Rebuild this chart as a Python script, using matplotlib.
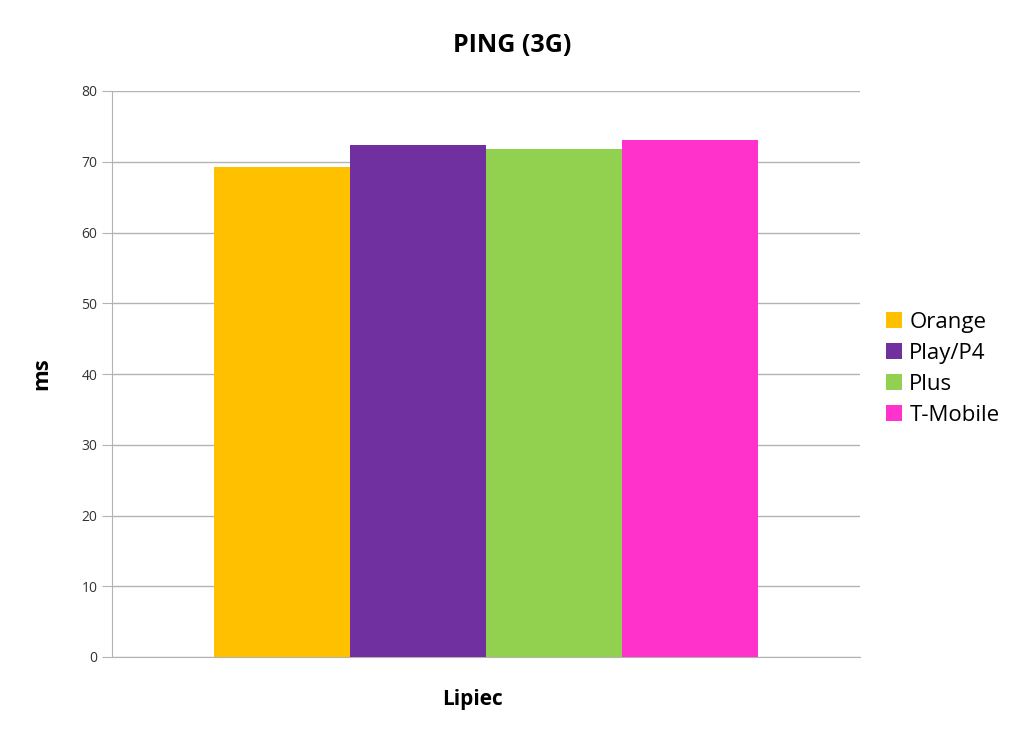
"""PING (3G) bar chart, one month, four operators."""

import matplotlib

matplotlib.use("Agg")
import matplotlib.pyplot as plt
import numpy as np

operators = ["Orange", "Play/P4", "Plus", "T-Mobile"]
ping_ms = [69.2, 72.3, 71.8, 73.1]
colors = ["#ffc000", "#7030a0", "#92d050", "#ff33cc"]
month = "Lipiec"
yticks = [0, 10, 20, 30, 40, 50, 60, 70, 80]

plt.rcParams["font.family"] = ["Open Sans", "DejaVu Sans"]

W, H = 1024, 741
fig = plt.figure(figsize=(W / 100, H / 100), dpi=100)
ax = fig.add_axes([112 / W, 84 / H, 748 / W, 566 / H])

offsets = np.arange(len(operators)) - (len(operators) - 1) / 2
for off, val, col, name in zip(offsets, ping_ms, colors, operators):
    ax.bar(off, val, width=1.0, color=col, label=name, zorder=3)

ax.set_xlim(-2.75, 2.75)
ax.set_ylim(0, 80)
ax.set_yticks(yticks)
ax.set_xticks([])
ax.yaxis.grid(True, color="#b3b3b3", linewidth=1, zorder=0)
for side in ("top", "right"):
    ax.spines[side].set_visible(False)
for side in ("left", "bottom"):
    ax.spines[side].set_color("#b3b3b3")
ax.tick_params(axis="y", colors="#b3b3b3", length=7, labelcolor="#333333",
               labelsize=10)

# titles placed in figure pixels to match the original layout
fig.text(512 / W, 1 - 45 / H, "PING (3G)", fontsize=18, fontweight="bold",
         ha="center", va="center")
fig.text(42 / W, 1 - 374 / H, "ms", fontsize=16, fontweight="bold",
         rotation=90, ha="center", va="center")
fig.text(472 / W, 1 - 700 / H, month, fontsize=15, fontweight="bold",
         ha="center", va="center")

fig.legend(*ax.get_legend_handles_labels(), loc="center left",
           bbox_to_anchor=(886 / W, 1 - 369 / H), frameon=False,
           fontsize=16, handlelength=0.7, handleheight=0.7,
           handletextpad=0.35, labelspacing=0.45, borderpad=0,
           borderaxespad=0)

fig.savefig("out.png", dpi=100)
